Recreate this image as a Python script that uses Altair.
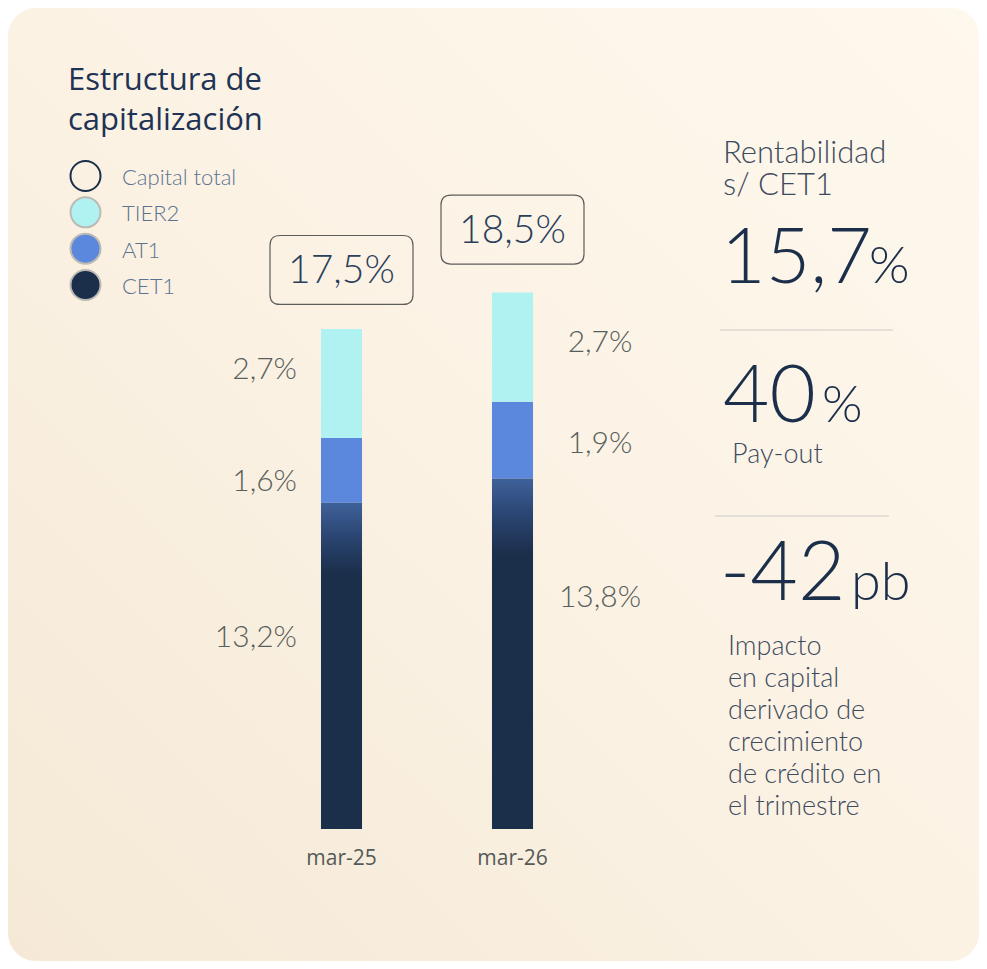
import altair as alt
import pandas as pd

# ---------------- data ----------------
periods = ["mar-25", "mar-26"]
segments = ["CET1", "AT1", "TIER2"]
cet1 = [13.2, 13.8]
at1 = [1.6, 1.9]
tier2 = [2.7, 2.7]
cet1_labels = ["13,2%", "13,8%"]
at1_labels = ["1,6%", "1,9%"]
tier2_labels = ["2,7%", "2,7%"]
total_values = [17.5, 18.5]
total_labels = ["17,5%", "18,5%"]

legend_names = ["Capital total", "TIER2", "AT1", "CET1"]

title_lines = ["Estructura de", "capitalización"]
kpi_heading = ["Rentabilidad", "s/ CET1"]
kpi_numbers = ["15,7", "40", "-42"]
kpi_units = ["%", "%", "pb"]
payout_caption = "Pay-out"
impact_caption = ["Impacto", "en capital", "derivado de", "crecimiento",
                  "de crédito en", "el trimestre"]

# ---------------- style / layout ----------------
FONT = "Lato"
FONT2 = "Open Sans"
NAVY = "#1b2e4a"
TEXT_GREY = "#3e4b5e"
LABEL_GREY = "#575e5b"
SEG_COLORS = {"TIER2": "#b0f2f1", "AT1": "#5b88dd"}
LEGEND_FILLS = ["transparent", "#b0f2f1", "#5b88dd", "#1b2e4a"]
LEGEND_STROKES = ["#1b2e4a", "#bdbab5", "#bdbab5", "#bdbab5"]

Y_MIN, Y_MAX = 5.12, 20.0          # broken value axis (bars start at Y_MIN)
PLOT_W, PLOT_H = 342, 601
PAD = {"left": 248, "top": 220, "right": 381, "bottom": 132}
OX, OY = 8 + PAD["left"], 8 + PAD["top"]   # page position of plot origin
PX_PER_UNIT = PLOT_H / (Y_MAX - Y_MIN)

# per-label vertical nudges (px, + = down) for segment labels: CET1, AT1, TIER2
LABEL_NUDGE = {"mar-25": [-28, 12, -14], "mar-26": [-56, 4, -4]}

# ---------------- tables ----------------
rows = []
for i, p in enumerate(periods):
    vals = [cet1[i], at1[i], tier2[i]]
    labs = [cet1_labels[i], at1_labels[i], tier2_labels[i]]
    cum = 0.0
    for k, (seg, v, lab) in enumerate(zip(segments, vals, labs)):
        start = max(cum, Y_MIN)
        end = cum + v
        mid = (start + end) / 2
        rows.append(dict(period=p, segment=seg, start=start, end=end,
                         labelpos=mid - LABEL_NUDGE[p][k] / PX_PER_UNIT, label=lab))
        cum = end
bars = pd.DataFrame(rows)
totals = pd.DataFrame({"period": periods, "total": total_values, "label": total_labels})
legend = pd.DataFrame({"name": legend_names, "i": list(range(len(legend_names)))})
ONE = pd.DataFrame({"a": [0]})

y_scale = alt.Scale(domain=[Y_MIN, Y_MAX], zero=False, nice=False)
x_enc = alt.X(
    "period:N", sort=periods,
    scale=alt.Scale(domain=periods, paddingInner=0.76, paddingOuter=0.38),
    axis=alt.Axis(title=None, domain=False, ticks=False, tickSize=0, grid=False,
                  labelAngle=0, labelFont=FONT2, labelFontSize=21, labelFontWeight=400,
                  labelColor="#555a57", labelPadding=29, labelBaseline="middle",
                  zindex=2),
)

# ---------------- layers ----------------
bg = alt.Chart(ONE).mark_rect(
    cornerRadius=28,
    fill=alt.Gradient(gradient="linear", x1=1, y1=0, x2=0, y2=1,
                      stops=[alt.GradientStop(offset=0, color="#fef8ed"),
                             alt.GradientStop(offset=0.5, color="#fbf2e4"),
                             alt.GradientStop(offset=1, color="#f5e9d6")]),
).encode(x=alt.value(-PAD["left"]), x2=alt.value(PLOT_W + PAD["right"]),
         y=alt.value(-PAD["top"]), y2=alt.value(PLOT_H + PAD["bottom"]))

upper = alt.Chart(bars).transform_filter(alt.datum.segment != "CET1").mark_bar().encode(
    x=x_enc,
    y=alt.Y("end:Q", scale=y_scale, axis=None),
    y2="start:Q",
    color=alt.Color("segment:N", scale=alt.Scale(domain=list(SEG_COLORS),
                                                 range=list(SEG_COLORS.values())),
                    legend=None),
)

core = alt.Chart(bars).transform_filter(alt.datum.segment == "CET1").mark_bar(
    fill=alt.Gradient(gradient="linear", x1=0, y1=0, x2=0, y2=1,
                      stops=[alt.GradientStop(offset=0, color="#3f619a"),
                             alt.GradientStop(offset=0.1, color="#2b4673"),
                             alt.GradientStop(offset=0.22, color=NAVY),
                             alt.GradientStop(offset=1, color=NAVY)])
).encode(x=x_enc, y=alt.Y("end:Q", scale=y_scale, axis=None), y2="start:Q")

seg_text_style = dict(font=FONT, fontSize=30, fontWeight=300, color=LABEL_GREY,
                      baseline="middle")
seg_left = alt.Chart(bars).transform_filter(alt.datum.period == periods[0]).mark_text(
    align="right", dx=-44.5, **seg_text_style
).encode(x=x_enc, y=alt.Y("labelpos:Q", scale=y_scale, axis=None), text="label:N")
seg_right = alt.Chart(bars).transform_filter(alt.datum.period == periods[1]).mark_text(
    align="center", dx=87.5, **seg_text_style
).encode(x=x_enc, y=alt.Y("labelpos:Q", scale=y_scale, axis=None), text="label:N")

# rounded box around the totals (custom symbol, 143 x 69 px, r=10)
BOX_PATH = ("M-0.86,-0.4825L0.86,-0.4825Q1,-0.4825 1,-0.3425L1,0.3425"
            "Q1,0.4825 0.86,0.4825L-0.86,0.4825Q-1,0.4825 -1,0.3425"
            "L-1,-0.3425Q-1,-0.4825 -0.86,-0.4825Z")
boxes = alt.Chart(totals).mark_point(
    shape=BOX_PATH, size=143 ** 2, filled=False, stroke="#5c5c5a",
    strokeWidth=1.2, opacity=1, yOffset=-59
).encode(x=x_enc, y=alt.Y("total:Q", scale=y_scale, axis=None))
box_text = alt.Chart(totals).mark_text(
    font=FONT, fontSize=39, fontWeight=300, color="#2b3f5c", baseline="middle", dy=-58
).encode(x=x_enc, y=alt.Y("total:Q", scale=y_scale, axis=None), text="label:N")

# legend
leg_off = alt.YOffset("i:Q", scale=alt.Scale(domain=[0, 3], range=[0, 109]))
leg_dots = alt.Chart(legend).mark_point(
    shape="circle", filled=True, size=900, strokeWidth=2, opacity=1
).encode(
    x=alt.value(85.5 - OX), y=alt.value(176 - OY), yOffset=leg_off,
    fill=alt.Fill("name:N", scale=alt.Scale(domain=legend_names, range=LEGEND_FILLS),
                  legend=None),
    stroke=alt.Stroke("name:N", scale=alt.Scale(domain=legend_names, range=LEGEND_STROKES),
                      legend=None),
)
leg_text = alt.Chart(legend).mark_text(
    align="left", baseline="middle", font=FONT, fontSize=22, fontWeight=300,
    color="#5b7391"
).encode(x=alt.value(122 - OX), y=alt.value(178 - OY), yOffset=leg_off, text="name:N")


def label(text, x, y, size, color, weight=300, line_height=None, font=FONT):
    return alt.Chart(ONE).mark_text(
        text=text, align="left", baseline="alphabetic", font=font, fontSize=size,
        fontWeight=weight, color=color, lineHeight=line_height or round(size * 1.2)
    ).encode(x=alt.value(x - OX), y=alt.value(y - OY))


def hline(x1, x2, y):
    return alt.Chart(ONE).mark_rule(color="#dcd8d1", strokeWidth=1.5).encode(
        x=alt.value(x1 - OX), x2=alt.value(x2 - OX), y=alt.value(y - OY))


texts = [
    label(title_lines, 68, 90, 31, "#1f3355", weight=400, line_height=40, font=FONT2),
    label(kpi_heading, 723, 163, 31, TEXT_GREY, line_height=32),
    label(kpi_numbers[0], 721, 283, 77, NAVY),
    label(kpi_units[0], 869, 283, 52, NAVY),
    hline(720, 893, 330),
    label(kpi_numbers[1], 723, 422, 80, NAVY),
    label(kpi_units[1], 822, 422, 52, NAVY),
    label(payout_caption, 732, 463, 27, TEXT_GREY),
    hline(715, 889, 516),
    label(kpi_numbers[2], 720, 600, 82, NAVY),
    label(kpi_units[2], 851, 600, 54, NAVY),
    label(impact_caption, 728, 655, 27, TEXT_GREY, line_height=32),
]

chart = alt.layer(
    bg, upper, core, seg_left, seg_right, boxes, box_text, leg_dots, leg_text, *texts
).properties(
    width=PLOT_W, height=PLOT_H, padding=PAD,
    autosize=alt.AutoSizeParams(type="none"), background="white",
).configure_view(strokeWidth=0)

chart.save("out.html", embed_options={"renderer": "svg", "actions": False})
